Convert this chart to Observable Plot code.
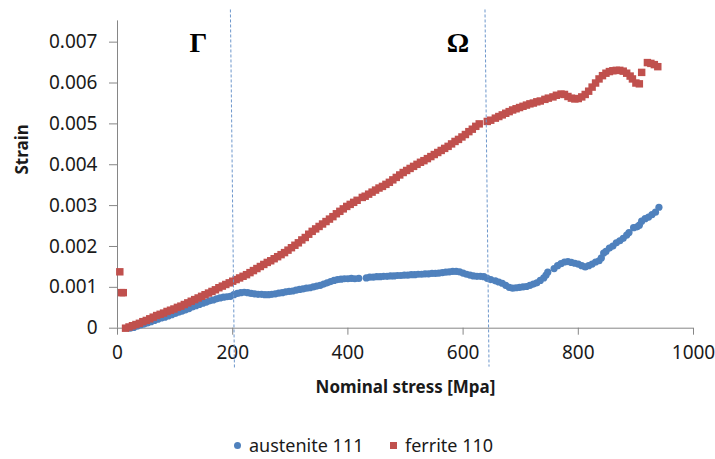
<!DOCTYPE html>
<html>
<head>
<meta charset="utf-8">
<script src="https://cdn.jsdelivr.net/npm/d3@7"></script>
<script src="https://cdn.jsdelivr.net/npm/@observablehq/plot@0.6"></script>
<style>
  html, body { margin: 0; padding: 0; background: #fff; }
  #wrap { position: relative; width: 715px; height: 459px; overflow: hidden; font-family: "Noto Sans", sans-serif; }
  #legend { position: absolute; left: 0; top: 420px; width: 715px; height: 39px; font-size: 18px; color: #1a1a1a; }
  .item { position: absolute; top: 13px; line-height: 24px; white-space: nowrap; }
  .sw { position: absolute; }
</style>
</head>
<body>
<div id="wrap"><div id="chart"></div><div id="legend"></div></div>
<script>
// ---- data ----
const seriesNames = ["austenite 111", "ferrite 110"];
const seriesColors = ["#4F81BD", "#C0504D"];

const austeniteStress = [22,28,34,40,46,52,58,64,70,76,82,88,94,100,106,112,118,124,130,136,142,148,154,160,166,172,178,184,190,196,202,208,214,220,226,232,238,244,250,256,262,268,274,280,286,292,298,304,310,316,322,328,334,340,346,352,358,364,370,376,382,388,394,400,406,412,419,432,438,444,450,456,462,468,474,480,486,492,498,504,510,516,522,528,534,540,546,552,558,564,570,576,582,588,594,600,606,612,618,624,630,636,642,648,656,662,668,674,680,686,692,698,704,710,716,722,728,734,740,744,747,758,764,770,776,782,788,794,800,806,812,818,824,830,836,840,844,848,854,860,866,872,878,884,888,896,902,906,910,916,922,928,934,940];
const austeniteStrain = [0.00000,0.00002,0.00005,0.00008,0.00010,0.00013,0.00016,0.00019,0.00022,0.00025,0.00027,0.00030,0.00033,0.00036,0.00039,0.00042,0.00045,0.00048,0.00052,0.00055,0.00058,0.00061,0.00064,0.00067,0.00069,0.00072,0.00074,0.00076,0.00077,0.00078,0.00082,0.00085,0.00087,0.00088,0.00087,0.00085,0.00084,0.00083,0.00083,0.00082,0.00082,0.00083,0.00084,0.00086,0.00087,0.00089,0.00090,0.00091,0.00093,0.00095,0.00096,0.00098,0.00099,0.00101,0.00103,0.00105,0.00108,0.00111,0.00114,0.00117,0.00119,0.00120,0.00121,0.00121,0.00122,0.00121,0.00122,0.00123,0.00125,0.00125,0.00126,0.00126,0.00127,0.00127,0.00128,0.00128,0.00129,0.00129,0.00130,0.00130,0.00131,0.00131,0.00132,0.00132,0.00133,0.00133,0.00134,0.00134,0.00135,0.00136,0.00137,0.00138,0.00139,0.00139,0.00138,0.00135,0.00132,0.00130,0.00128,0.00127,0.00127,0.00126,0.00122,0.00119,0.00116,0.00113,0.00110,0.00105,0.00100,0.00098,0.00099,0.00100,0.00101,0.00102,0.00105,0.00108,0.00111,0.00117,0.00123,0.00130,0.00137,0.00146,0.00153,0.00158,0.00162,0.00163,0.00161,0.00159,0.00157,0.00153,0.00150,0.00153,0.00157,0.00162,0.00165,0.00172,0.00184,0.00188,0.00196,0.00201,0.00209,0.00214,0.00220,0.00228,0.00234,0.00246,0.00248,0.00252,0.00262,0.00268,0.00272,0.00278,0.00284,0.00296];

const ferriteStress = [4,7,10,14,20,26,32,38,44,50,56,62,68,74,80,86,92,98,104,110,116,122,128,134,140,146,152,158,164,170,176,182,188,194,200,206,212,218,224,230,236,242,248,254,260,266,272,278,284,290,296,302,308,314,320,326,332,338,344,350,356,362,368,374,380,386,392,398,404,410,416,425,430,436,442,448,454,460,466,472,478,484,490,496,502,508,514,520,526,532,538,544,550,556,562,568,574,580,586,592,598,604,610,616,622,628,642,648,656,662,668,674,680,686,692,698,704,710,716,722,728,734,742,748,756,762,770,776,782,788,794,800,806,812,818,824,830,836,842,848,854,860,866,872,878,884,890,894,900,906,910,920,926,932,938];
const ferriteStrain = [0.00138,0.00087,0.00087,0.00000,0.00003,0.00006,0.00009,0.00012,0.00016,0.00019,0.00023,0.00027,0.00031,0.00034,0.00037,0.00041,0.00044,0.00047,0.00051,0.00054,0.00058,0.00062,0.00066,0.00070,0.00074,0.00078,0.00082,0.00086,0.00090,0.00094,0.00099,0.00103,0.00107,0.00111,0.00115,0.00119,0.00123,0.00127,0.00131,0.00136,0.00141,0.00146,0.00151,0.00156,0.00161,0.00165,0.00170,0.00175,0.00180,0.00185,0.00191,0.00197,0.00203,0.00209,0.00216,0.00222,0.00230,0.00237,0.00243,0.00249,0.00255,0.00261,0.00267,0.00273,0.00280,0.00286,0.00292,0.00298,0.00303,0.00308,0.00313,0.00320,0.00323,0.00328,0.00333,0.00338,0.00343,0.00347,0.00352,0.00357,0.00363,0.00369,0.00375,0.00381,0.00386,0.00391,0.00396,0.00401,0.00406,0.00410,0.00415,0.00420,0.00425,0.00430,0.00435,0.00440,0.00445,0.00451,0.00457,0.00462,0.00468,0.00474,0.00481,0.00487,0.00494,0.00500,0.00506,0.00509,0.00514,0.00518,0.00522,0.00526,0.00530,0.00534,0.00537,0.00540,0.00543,0.00546,0.00549,0.00551,0.00554,0.00556,0.00560,0.00563,0.00566,0.00570,0.00573,0.00572,0.00567,0.00563,0.00561,0.00562,0.00566,0.00572,0.00580,0.00590,0.00600,0.00610,0.00618,0.00624,0.00628,0.00630,0.00631,0.00631,0.00629,0.00624,0.00617,0.00610,0.00600,0.00598,0.00626,0.00650,0.00648,0.00645,0.00640];

const xTicks = [0, 200, 400, 600, 800, 1000];
const yTicks = [0, 0.001, 0.002, 0.003, 0.004, 0.005, 0.006, 0.007];

// region boundary lines (slightly slanted, drawn over the plot)
const boundaryX1 = [196, 638];
const boundaryY1 = [0.0078, 0.0078];
const boundaryX2 = [203, 645];
const boundaryY2 = [-0.00096, -0.00094];

const regionLabels = ["Γ", "Ω"];
const regionLabelX = [140.5, 591];
const regionLabelY = [0.00697, 0.00697];

// ---- tables built from the arrays ----
const austenite = austeniteStress.map((s, i) => ({stress: s, strain: austeniteStrain[i]}));
const ferrite = ferriteStress.map((s, i) => ({stress: s, strain: ferriteStrain[i]}));
const bounds = boundaryX1.map((x, i) => ({x1: x, y1: boundaryY1[i], x2: boundaryX2[i], y2: boundaryY2[i]}));
const labels = regionLabels.map((t, i) => ({t, x: regionLabelX[i], y: regionLabelY[i]}));

const axisGray = "#868686";

const chart = Plot.plot({
  width: 715,
  height: 420,
  marginLeft: 117,
  marginRight: 22,
  marginTop: 20.4,
  marginBottom: 92.3,
  style: {fontFamily: "Noto Sans, sans-serif", fontSize: "19px", color: "#1a1a1a", background: "#fff", overflow: "visible"},
  x: {domain: [0, 1000]},
  y: {domain: [0, 0.00752]},
  marks: [
    Plot.ruleX([0], {stroke: axisGray, strokeWidth: 1}),
    Plot.ruleY([0], {stroke: axisGray, strokeWidth: 1}),
    Plot.axisY({ticks: yTicks, tickSize: 8, tickPadding: 12, stroke: axisGray, fill: "#1a1a1a",
      tickFormat: d => d === 0 ? "0" : d.toFixed(3), label: null, fontSize: 19}),
    Plot.axisX({ticks: xTicks, tickSize: 7, tickPadding: 10, stroke: axisGray, fill: "#1a1a1a",
      tickFormat: d => String(d), label: null, fontSize: 19}),
    Plot.dot(austenite, {x: "stress", y: "strain", r: 3.6, fill: seriesColors[0], stroke: "none", symbol: "circle"}),
    Plot.dot(ferrite, {x: "stress", y: "strain", r: 4.2, fill: seriesColors[1], stroke: "none", symbol: "square"}),
    Plot.link(bounds, {x1: "x1", y1: "y1", x2: "x2", y2: "y2", stroke: "#6d97cc", strokeWidth: 1, strokeDasharray: "3,2"}),
    Plot.text(labels, {x: "x", y: "y", text: "t", fontFamily: "Liberation Serif, serif", fontWeight: "bold", fontSize: 28, fill: "#000", lineAnchor: "middle"}),
    Plot.text(["Nominal stress [Mpa]"], {frameAnchor: "bottom", dy: 59, fontWeight: "bold", fontSize: 17, fill: "#1a1a1a", lineAnchor: "middle"}),
    Plot.text(["Strain"], {frameAnchor: "left", dx: -95, rotate: -90, fontWeight: "bold", fontSize: 17, fill: "#1a1a1a", lineAnchor: "middle"})
  ]
});
document.getElementById("chart").appendChild(chart);

// ---- legend below the SVG ----
const legend = document.getElementById("legend");
const legendPos = [{sw: 234, text: 249}, {sw: 390, text: 405}];
seriesNames.forEach((name, i) => {
  const sw = document.createElement("div");
  sw.className = "sw";
  const size = 7;
  sw.style.left = legendPos[i].sw + "px";
  sw.style.top = (25 - size / 2) + "px";
  sw.style.width = size + "px";
  sw.style.height = size + "px";
  sw.style.background = seriesColors[i];
  if (i === 0) sw.style.borderRadius = "50%";
  legend.appendChild(sw);
  const t = document.createElement("div");
  t.className = "item";
  t.style.left = legendPos[i].text + "px";
  t.textContent = name;
  legend.appendChild(t);
});
</script>
</body>
</html>
